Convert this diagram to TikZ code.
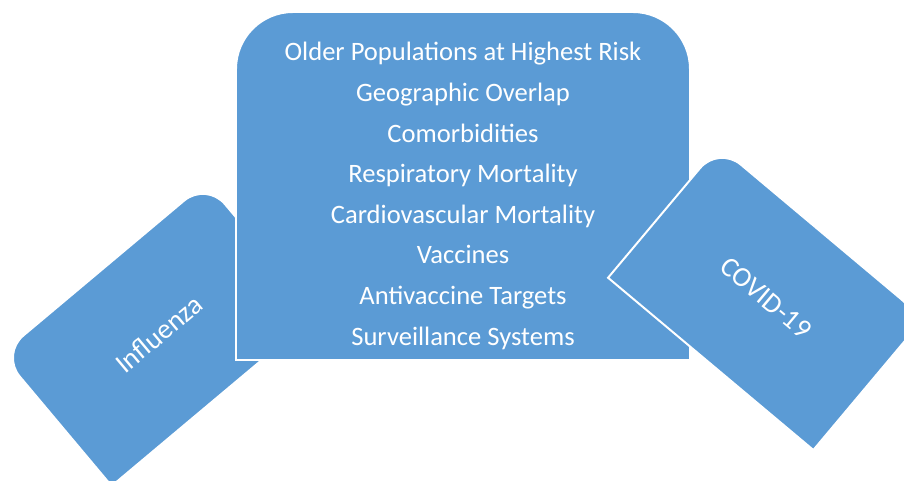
\documentclass[tikz,border=0pt]{standalone}
\usepackage{fontspec}
\setmainfont{Carlito}
\usetikzlibrary{positioning}
\definecolor{tileblue}{RGB}{91,155,213}

\tikzset{
  tile/.style={fill=tileblue,draw=white,line width=1.4pt},
  tiletext/.style={text=white,font=\fontsize{19.9}{24}\selectfont},
  itemtext/.style={text=white,font=\fontsize{18.9}{24}\selectfont,anchor=base}
}

\begin{document}
\begin{tikzpicture}[x=0.25mm,y=0.25mm]
  \clip (0,0) rectangle (904,481);
  \fill[white] (0,0) rectangle (904,481);
  % left tile, round corners on its upper-left side
  \begin{scope}[shift={(159,147)},rotate=40]
    \draw[tile] (-134,-86) -- (-134,57) arc[start angle=180,end angle=90,radius=29]
      -- (105,86) arc[start angle=90,end angle=0,radius=29] -- (134,-86) -- cycle;
  \end{scope}
  \node[tiletext,rotate=40] (flu) at (159,147) {Influenza};
  % middle box
  \draw[tile] (236,121) -- (236,412) arc[start angle=180,end angle=90,radius=57]
    -- (633,469) arc[start angle=90,end angle=0,radius=57] -- (690,121) -- cycle;
  \foreach \t [count=\i] in {Older Populations at Highest Risk,Geographic Overlap,
    Comorbidities,Respiratory Mortality,Cardiovascular Mortality,Vaccines,
    Antivaccine Targets,Surveillance Systems}
    \node[itemtext] (item\i) at (463,460.6-40.6*\i) {\t};
  % right tile, laid over the middle box
  \begin{scope}[shift={(766,183)},rotate=-40]
    \draw[tile] (-134,-86) -- (-134,57) arc[start angle=180,end angle=90,radius=29]
      -- (105,86) arc[start angle=90,end angle=0,radius=29] -- (134,-86) -- cycle;
  \end{scope}
  \node[tiletext,rotate=-40] (covid) at (766,183) {COVID-19};
\end{tikzpicture}
\end{document}
